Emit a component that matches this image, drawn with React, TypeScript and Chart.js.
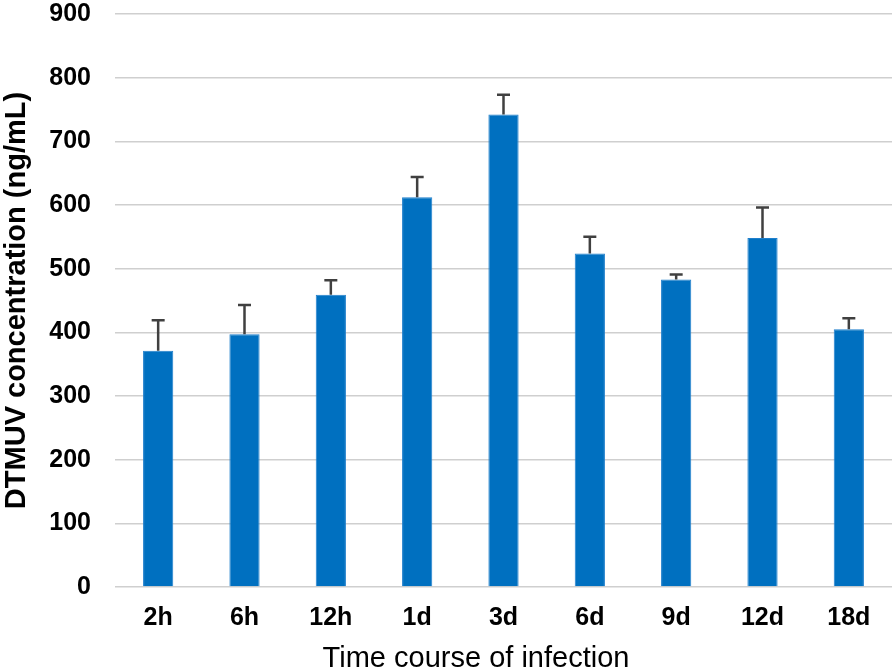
import React, { useEffect, useRef } from "react";
import { Chart, registerables } from "chart.js";

Chart.register(...registerables);

const categories = ["2h", "6h", "12h", "1d", "3d", "6d", "9d", "12d", "18d"];
const means = [371, 397, 459, 612, 742, 524, 483, 548, 405];
const errors = [48, 46, 23, 32, 31, 26, 8, 48, 17];
const yTicks = [0, 100, 200, 300, 400, 500, 600, 700, 800, 900];
const xTitle = "Time course of infection";
const yTitle = "DTMUV concentration (ng/mL)";

const errorBarPlugin = {
  id: "errorBars",
  afterDatasetsDraw(chart: any) {
    const ctx = chart.ctx;
    const meta = chart.getDatasetMeta(0);
    const yScale = chart.scales.y;
    ctx.save();
    ctx.strokeStyle = "#404040";
    ctx.lineWidth = 2.5;
    meta.data.forEach((bar: any, i: number) => {
      const x = bar.x;
      const y0 = yScale.getPixelForValue(means[i]);
      const y1 = yScale.getPixelForValue(means[i] + errors[i]);
      ctx.beginPath();
      ctx.moveTo(x, y0);
      ctx.lineTo(x, y1);
      ctx.moveTo(x - 6.5, y1);
      ctx.lineTo(x + 6.5, y1);
      ctx.stroke();
    });
    ctx.restore();
  },
};

const xTitlePlugin = {
  id: "xTitleText",
  afterDraw(chart: any) {
    const ctx = chart.ctx;
    ctx.save();
    ctx.fillStyle = "#000";
    ctx.font = "29px 'Liberation Sans', Arial";
    ctx.textAlign = "center";
    ctx.textBaseline = "alphabetic";
    ctx.fillText(xTitle, 476, 667);
    ctx.restore();
  },
};

export default function App() {
  const ref = useRef<HTMLCanvasElement>(null);
  useEffect(() => {
    document.body.style.margin = "0";
    const chart = new Chart(ref.current as HTMLCanvasElement, {
      type: "bar",
      data: {
        labels: categories,
        datasets: [
          {
            data: means,
            backgroundColor: "#0070C0",
            borderColor: "#1f7fcc",
            borderWidth: 1,
            barPercentage: 0.35,
            categoryPercentage: 1,
          },
        ],
      },
      options: {
        animation: false,
        responsive: false,
        layout: { padding: { top: 14, right: 4, left: 0, bottom: 0 } },
        plugins: { legend: { display: false }, tooltip: { enabled: false } },
        scales: {
          x: {
            grid: { display: false, drawTicks: false },
            border: { display: false },
            ticks: {
              color: "#000",
              padding: 16,
              font: { family: "Liberation Sans, Arial", size: 25, weight: "bold" },
            },
            title: { display: false },
            afterFit(scale: any) {
              scale.height = 85;
              scale.paddingLeft = 0;
              scale.paddingRight = 0;
            },
          },
          y: {
            min: 0,
            max: 900,
            afterBuildTicks(scale: any) {
              scale.ticks = yTicks.map((v) => ({ value: v }));
            },
            grid: { color: "#cfcfcf", lineWidth: 1.5, drawTicks: false },
            border: { display: false },
            ticks: {
              color: "#000",
              padding: 24,
              font: { family: "Liberation Sans, Arial", size: 25, weight: "bold" },
            },
            title: {
              display: true,
              text: yTitle,
              color: "#000",
              padding: { top: 0, bottom: 0 },
              font: { family: "Liberation Sans, Arial", size: 29, weight: "bold" },
            },
            afterFit(scale: any) {
              scale.width = 115;
              scale.paddingTop = 0;
              scale.paddingBottom = 0;
            },
          },
        },
      },
      plugins: [errorBarPlugin, xTitlePlugin],
    });
    return () => chart.destroy();
  }, []);
  return (
    <div style={{ width: 896, height: 672, position: "relative", background: "#fff" }}>
      <canvas ref={ref} width={896} height={672} style={{ display: "block" }} />
    </div>
  );
}
